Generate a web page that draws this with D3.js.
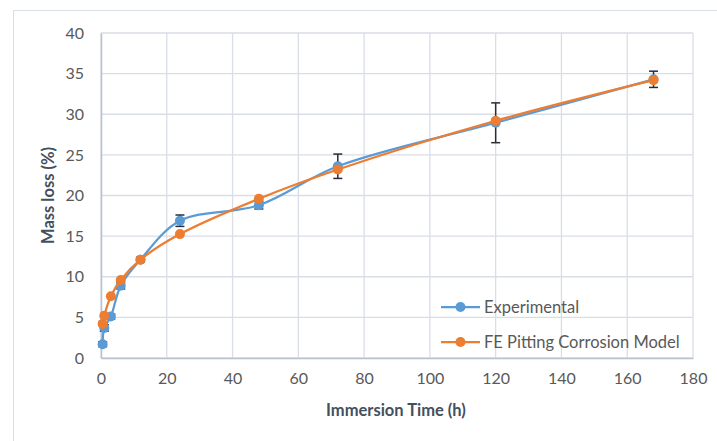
<!DOCTYPE html>
<html>
<head>
<meta charset="utf-8">
<script src="https://cdn.jsdelivr.net/npm/d3@7"></script>
<style>
  body { margin: 0; background: #fff; }
  svg { display: block; font-family: Lato, "Open Sans", sans-serif; }
</style>
</head>
<body>
<div id="graf"></div>
<script>
// Datos
horas = [0.5, 1, 3, 6, 12, 24, 48, 72, 120, 168]
experimental = [1.7, 3.7, 5.1, 8.9, 12.1, 16.9, 18.8, 23.6, 28.95, 34.3]
errores = [0.3, 0.4, 0.3, 0.4, 0.3, 0.7, 0.45, 1.5, 2.45, 1.0]
modelo = [4.2, 5.2, 7.6, 9.6, 12.1, 15.25, 19.6, 23.2, 29.2, 34.2]
series = ['Experimental', 'FE Pitting Corrosion Model']
xTicks = [0, 20, 40, 60, 80, 100, 120, 140, 160, 180]
yTicks = [0, 5, 10, 15, 20, 25, 30, 35, 40]

ancho_total = 717
alto_total = 441
margins = {top: 33, left: 101, right: 24, bottom: 83}
ancho = ancho_total - margins.left - margins.right
alto = alto_total - margins.top - margins.bottom

colores = ['#5b9bd5', '#ed7d31']
gris = '#d9dee6'

svg = d3.select('#graf').append('svg')
        .attr('width', ancho_total)
        .attr('height', alto_total)

// marco exterior
svg.append('rect')
   .attr('x', 13.5).attr('y', 10.5)
   .attr('width', 720).attr('height', 450)
   .attr('fill', 'none').attr('stroke', '#dadfe6')

g = svg.append('g')
       .attr('transform', `translate(${margins.left}, ${margins.top})`)

// -- Escaladores --
x = d3.scaleLinear().domain([0, 180]).range([0, ancho])
y = d3.scaleLinear().domain([0, 40]).range([alto, 0])

// -- Rejilla --
g.append('g').selectAll('line')
 .data(xTicks)
 .enter().append('line')
 .attr('x1', d => x(d)).attr('x2', d => x(d))
 .attr('y1', 0).attr('y2', alto)
 .attr('stroke', gris).attr('stroke-width', 1.3)
g.append('g').selectAll('line')
 .data(yTicks)
 .enter().append('line')
 .attr('x1', 0).attr('x2', ancho)
 .attr('y1', d => y(d)).attr('y2', d => y(d))
 .attr('stroke', gris).attr('stroke-width', 1.3)

// -- Ejes --
xAxGroup = g.append('g')
            .attr('transform', `translate(0, ${alto})`)
            .call(d3.axisBottom(x).tickValues(xTicks).tickSize(0).tickPadding(15))
yAxGroup = g.append('g')
            .call(d3.axisLeft(y).tickValues(yTicks).tickSize(0).tickPadding(17))
;[xAxGroup, yAxGroup].forEach(ax => {
    ax.select('.domain').attr('stroke', '#b8c2d0').attr('stroke-width', 1.5)
    ax.selectAll('text')
      .style('font-family', 'Lato, sans-serif')
      .style('font-size', '16px')
      .attr('fill', '#595959')
})

// títulos de ejes
svg.append('text')
   .attr('x', margins.left + ancho / 2 - 1)
   .attr('y', 416)
   .attr('text-anchor', 'middle')
   .style('font-size', '16.5px').style('font-weight', 'bold')
   .attr('fill', '#44505e')
   .text('Immersion Time (h)')
svg.append('text')
   .attr('transform', `translate(54, ${margins.top + alto / 2}) rotate(-90)`)
   .attr('text-anchor', 'middle')
   .style('font-size', '16.5px').style('font-weight', 'bold')
   .attr('fill', '#44505e')
   .text('Mass loss (%)')

// -- Curvas --
linea = d3.line()
          .x(d => x(d[0]))
          .y(d => y(d[1]))
          .curve(d3.curveCatmullRom.alpha(0.5))

function serie(valores, i, errs) {
    datos = horas.map((h, k) => [h, valores[k], errs ? errs[k] : 0])
    capa = g.append('g')
    capa.append('path')
        .datum(datos)
        .attr('d', linea)
        .attr('fill', 'none')
        .attr('stroke', colores[i])
        .attr('stroke-width', 2.25)
    if (errs) {
        eb = capa.append('g').selectAll('g')
                 .data(datos)
                 .enter().append('g')
                 .attr('stroke', '#262d38').attr('stroke-width', 1.5)
        eb.append('line')
          .attr('x1', d => x(d[0])).attr('x2', d => x(d[0]))
          .attr('y1', d => y(d[1] + d[2])).attr('y2', d => y(d[1] - d[2]))
        eb.append('line')
          .attr('x1', d => x(d[0]) - 4.5).attr('x2', d => x(d[0]) + 4.5)
          .attr('y1', d => y(d[1] + d[2])).attr('y2', d => y(d[1] + d[2]))
        eb.append('line')
          .attr('x1', d => x(d[0]) - 4.5).attr('x2', d => x(d[0]) + 4.5)
          .attr('y1', d => y(d[1] - d[2])).attr('y2', d => y(d[1] - d[2]))
    }
    capa.append('g').selectAll('circle')
        .data(datos)
        .enter().append('circle')
        .attr('cx', d => x(d[0]))
        .attr('cy', d => y(d[1]))
        .attr('r', 5)
        .attr('fill', colores[i])
}
serie(experimental, 0, errores)
serie(modelo, 1, null)

// -- Leyenda --
leyenda = svg.append('g')
             .selectAll('g')
             .data(series)
             .enter().append('g')
             .attr('transform', (d, i) => `translate(441, ${307 + i * 35})`)
leyenda.append('line')
       .attr('x1', 0).attr('x2', 39)
       .attr('stroke', (d, i) => colores[i]).attr('stroke-width', 2.25)
leyenda.append('circle')
       .attr('cx', 19.5).attr('r', 5)
       .attr('fill', (d, i) => colores[i])
leyenda.append('text')
       .attr('x', 43).attr('dy', '0.35em')
       .style('font-size', '16.5px')
       .attr('fill', '#595959')
       .text(d => d)
</script>
</body>
</html>
